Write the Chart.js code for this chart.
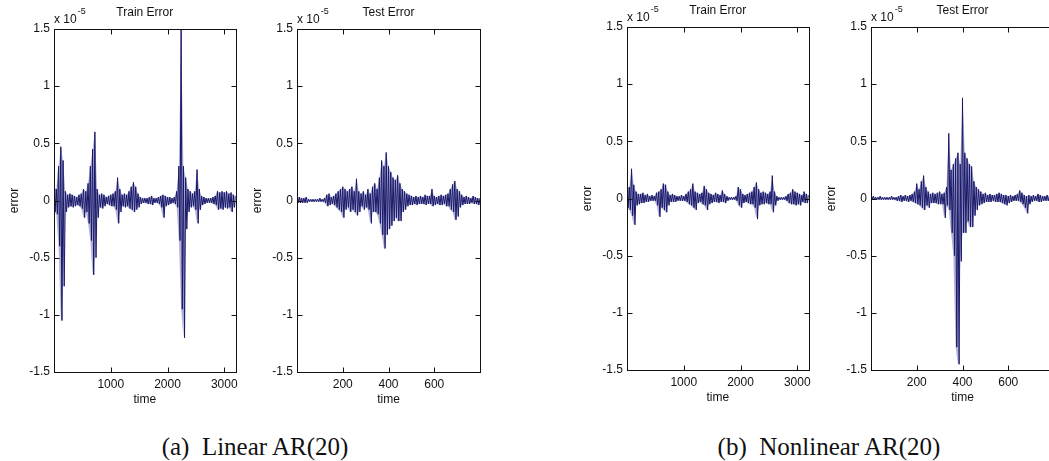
<!DOCTYPE html>
<html>
<head>
<meta charset="utf-8">
<script src="https://cdn.jsdelivr.net/npm/chart.js@4/dist/chart.umd.min.js"></script>
<style>
    html, body { margin: 0; padding: 0; background: #fff; overflow: hidden; }
    #wrap { position: relative; width: 1049px; height: 461px; overflow: hidden; }
    canvas { position: absolute; }
    .caption {
        position: absolute; top: 432px; height: 30px; line-height: 30px;
        font-family: "Liberation Serif", "DejaVu Serif", serif; font-size: 25px;
        color: #111; white-space: pre; transform: translateX(-50%);
    }
</style>
</head>
<body>
<div id="wrap">
    <canvas id="linTrain" width="243" height="410" style="left:0px;top:0px"></canvas>
    <canvas id="linTest" width="243" height="410" style="left:243px;top:0px"></canvas>
    <canvas id="nlTrain" width="243" height="410" style="left:573px;top:-2px"></canvas>
    <canvas id="nlTest" width="243" height="410" style="left:817px;top:-2px"></canvas>
    <div class="caption" style="left:255px">(a)  Linear AR(20)</div>
    <div class="caption" style="left:829px">(b)  Nonlinear AR(20)</div>
</div>
<script>
// error values in units of 1e-5, read as upper / lower envelope per time bin
const trainStep = 40;   // time units per bin, train set (0..3200)
const testStep = 10;    // time units per bin, test set (0..800)

const trainTicks = [1000, 2000, 3000];
const testTicks = [200, 400, 600];
const yTicks = [-1.5, -1, -0.5, 0, 0.5, 1, 1.5];

const linTrainHi = [0.12, 0.1, 0.3, 0.47, 0.35, 0.08, 0.05, 0.06, 0.05, 0.04, 0.03, 0.05, 0.06, 0.1, 0.08, 0.15,
    0.3, 0.45, 0.6, 0.1, 0.05, 0.06, 0.05, 0.03, 0.04, 0.05, 0.06, 0.08, 0.2, 0.1, 0.05, 0.06,
    0.05, 0.08, 0.12, 0.16, 0.12, 0.06, 0.03, 0.02, 0.02, 0.02, 0.03, 0.04, 0.02, 0.02, 0.03, 0.04,
    0.05, 0.04, 0.03, 0.03, 0.02, 0.03, 0.08, 0.3, 1.5, 0.3, 0.2, 0.1, 0.08, 0.06, 0.08, 0.27,
    0.1, 0.04, 0.03, 0.02, 0.02, 0.02, 0.03, 0.04, 0.08, 0.07, 0.08, 0.07, 0.08, 0.06, 0.07, 0.05, 0.04];
const linTrainLo = [-0.1, -0.12, -0.4, -1.05, -0.75, -0.1, -0.06, -0.05, -0.06, -0.05, -0.04, -0.05, -0.07, -0.15, -0.1, -0.2,
    -0.35, -0.65, -0.5, -0.15, -0.06, -0.07, -0.05, -0.03, -0.04, -0.05, -0.05, -0.08, -0.2, -0.1, -0.05, -0.06,
    -0.05, -0.07, -0.08, -0.1, -0.08, -0.06, -0.03, -0.02, -0.02, -0.03, -0.03, -0.04, -0.02, -0.02, -0.03, -0.06,
    -0.15, -0.05, -0.04, -0.03, -0.02, -0.03, -0.06, -0.35, -0.95, -1.2, -0.25, -0.1, -0.06, -0.05, -0.08, -0.2,
    -0.08, -0.04, -0.03, -0.02, -0.02, -0.02, -0.03, -0.04, -0.08, -0.07, -0.08, -0.06, -0.07, -0.06, -0.1, -0.06, -0.04];

const linTestHi = [0.02, 0.03, 0.02, 0.02, 0.03, 0.01, 0.01, 0.01, 0.01, 0.01, 0.02, 0.01, 0.02, 0.05, 0.06, 0.03,
    0.04, 0.06, 0.08, 0.1, 0.12, 0.1, 0.08, 0.1, 0.12, 0.08, 0.19, 0.08, 0.06, 0.08, 0.05, 0.1,
    0.06, 0.12, 0.15, 0.1, 0.2, 0.35, 0.3, 0.42, 0.3, 0.25, 0.2, 0.18, 0.22, 0.15, 0.1, 0.08,
    0.06, 0.05, 0.04, 0.03, 0.04, 0.03, 0.04, 0.03, 0.05, 0.04, 0.04, 0.1, 0.04, 0.03, 0.04, 0.05,
    0.04, 0.05, 0.06, 0.1, 0.14, 0.17, 0.1, 0.08, 0.05, 0.03, 0.04, 0.03, 0.02, 0.04, 0.03, 0.02, 0.02];
const linTestLo = [-0.02, -0.02, -0.02, -0.02, -0.02, -0.01, -0.01, -0.01, -0.01, -0.01, -0.01, -0.01, -0.02, -0.05, -0.04, -0.03,
    -0.04, -0.06, -0.08, -0.1, -0.15, -0.08, -0.06, -0.1, -0.08, -0.1, -0.13, -0.1, -0.05, -0.08, -0.06, -0.08,
    -0.2, -0.1, -0.1, -0.12, -0.2, -0.3, -0.42, -0.3, -0.25, -0.22, -0.18, -0.15, -0.18, -0.18, -0.1, -0.08,
    -0.05, -0.04, -0.04, -0.03, -0.04, -0.03, -0.03, -0.03, -0.04, -0.03, -0.03, -0.05, -0.04, -0.03, -0.04, -0.04,
    -0.03, -0.05, -0.05, -0.08, -0.1, -0.17, -0.14, -0.06, -0.04, -0.03, -0.03, -0.03, -0.02, -0.03, -0.03, -0.04, -0.02];

const nlTrainHi = [0.08, 0.1, 0.26, 0.12, 0.06, 0.04, 0.04, 0.05, 0.03, 0.04, 0.02, 0.03, 0.02, 0.05, 0.06, 0.08,
    0.13, 0.12, 0.06, 0.03, 0.04, 0.03, 0.02, 0.02, 0.03, 0.02, 0.04, 0.06, 0.08, 0.13, 0.06, 0.05,
    0.04, 0.05, 0.11, 0.08, 0.05, 0.04, 0.03, 0.05, 0.04, 0.03, 0.07, 0.04, 0.02, 0.01, 0.01, 0.01,
    0.02, 0.1, 0.08, 0.04, 0.03, 0.04, 0.05, 0.06, 0.1, 0.14, 0.08, 0.05, 0.06, 0.05, 0.04, 0.06,
    0.2, 0.06, 0.02, 0.01, 0.01, 0.01, 0.02, 0.04, 0.05, 0.08, 0.06, 0.05, 0.04, 0.03, 0.06, 0.04, 0.03];
const nlTrainLo = [-0.08, -0.1, -0.15, -0.23, -0.06, -0.05, -0.04, -0.04, -0.03, -0.03, -0.02, -0.02, -0.02, -0.06, -0.16, -0.08,
    -0.1, -0.12, -0.06, -0.03, -0.03, -0.03, -0.02, -0.02, -0.02, -0.02, -0.03, -0.05, -0.06, -0.08, -0.1, -0.04,
    -0.03, -0.05, -0.06, -0.1, -0.05, -0.04, -0.03, -0.03, -0.04, -0.03, -0.03, -0.04, -0.02, -0.01, -0.01, -0.01,
    -0.02, -0.06, -0.08, -0.04, -0.03, -0.04, -0.05, -0.05, -0.08, -0.18, -0.06, -0.05, -0.05, -0.04, -0.05, -0.05,
    -0.12, -0.06, -0.02, -0.01, -0.01, -0.01, -0.02, -0.04, -0.05, -0.05, -0.06, -0.05, -0.06, -0.03, -0.04, -0.04, -0.03];

const nlTestHi = [0.01, 0.02, 0.01, 0.01, 0.02, 0.01, 0.01, 0.01, 0.01, 0.02, 0.01, 0.01, 0.02, 0.03, 0.02, 0.03,
    0.02, 0.03, 0.04, 0.06, 0.13, 0.08, 0.15, 0.2, 0.1, 0.06, 0.04, 0.05, 0.04, 0.05, 0.06, 0.04,
    0.05, 0.1, 0.57, 0.25, 0.3, 0.35, 0.4, 0.3, 0.88, 0.4, 0.35, 0.3, 0.28, 0.15, 0.1, 0.08,
    0.06, 0.04, 0.05, 0.03, 0.04, 0.03, 0.03, 0.04, 0.05, 0.04, 0.03, 0.03, 0.02, 0.03, 0.02, 0.03,
    0.04, 0.07, 0.05, 0.03, 0.02, 0.03, 0.02, 0.03, 0.02, 0.04, 0.03, 0.02, 0.02, 0.03, 0.02, 0.02, 0.02];
const nlTestLo = [-0.01, -0.01, -0.01, -0.01, -0.01, -0.01, -0.01, -0.01, -0.01, -0.01, -0.01, -0.02, -0.02, -0.03, -0.02, -0.02,
    -0.03, -0.02, -0.03, -0.04, -0.05, -0.06, -0.08, -0.1, -0.06, -0.08, -0.04, -0.04, -0.04, -0.05, -0.05, -0.05,
    -0.17, -0.06, -0.1, -0.3, -0.5, -1.3, -1.45, -0.55, -0.3, -0.3, -0.2, -0.25, -0.25, -0.15, -0.1, -0.06,
    -0.05, -0.04, -0.03, -0.03, -0.03, -0.02, -0.03, -0.03, -0.03, -0.04, -0.05, -0.06, -0.04, -0.03, -0.02, -0.02,
    -0.02, -0.03, -0.05, -0.08, -0.13, -0.05, -0.03, -0.02, -0.02, -0.03, -0.03, -0.02, -0.02, -0.02, -0.02, -0.02, -0.02];

const axisFont = '"Liberation Sans", Arial, sans-serif';
const traceColor = 'rgb(24,24,104)';
const bandColor = 'rgba(40,40,150,0.35)';

let toPoints = function (values, step) {
    return values.map(function (v, i) { return {x: i * step, y: v}; });
};

// trace: zigzag between the upper and lower value of every bin
let buildTrace = function (hi, lo, step) {
    let pts = [];
    for (let i = 0; i < hi.length; i++) {
        pts.push({x: i * step, y: hi[i]});
        pts.push({x: i * step + step / 2, y: lo[i]});
    }
    return pts;
};

// matlab style frame: box, inward ticks, title, x 10^-5, axis labels
let framePlugin = {
    id: 'frame',
    afterDraw: function (chart, args, opts) {
        let ctx = chart.ctx;
        let a = chart.chartArea;
        let xs = chart.scales.x, ys = chart.scales.y;
        let L = Math.round(a.left) + 0.5, R = Math.round(a.right) + 0.5;
        let T = Math.round(a.top) + 0.5, B = Math.round(a.bottom) + 0.5;
        ctx.save();
        ctx.strokeStyle = '#111';
        ctx.lineWidth = 1;
        ctx.strokeRect(L, T, R - L, B - T);
        ctx.beginPath();
        opts.xticks.forEach(function (v) {
            let px = Math.round(xs.getPixelForValue(v)) + 0.5;
            ctx.moveTo(px, B); ctx.lineTo(px, B - 5);
            ctx.moveTo(px, T); ctx.lineTo(px, T + 5);
        });
        yTicks.forEach(function (v) {
            let py = Math.round(ys.getPixelForValue(v)) + 0.5;
            ctx.moveTo(L, py); ctx.lineTo(L + 5, py);
            ctx.moveTo(R, py); ctx.lineTo(R - 5, py);
        });
        ctx.stroke();

        ctx.fillStyle = '#111';
        ctx.font = '12px ' + axisFont;
        ctx.textAlign = 'center';
        ctx.textBaseline = 'middle';
        ctx.fillText(opts.title, (a.left + a.right) / 2, a.top - 16);
        ctx.fillText('time', (a.left + a.right) / 2, a.bottom + 28);

        ctx.textAlign = 'left';
        ctx.textBaseline = 'alphabetic';
        ctx.fillText('x 10', a.left, a.top - 6);
        let w = ctx.measureText('x 10').width;
        ctx.font = '9px ' + axisFont;
        ctx.fillText('-5', a.left + w + 1, a.top - 15);

        ctx.font = '12px ' + axisFont;
        ctx.translate(a.left - 39, (a.top + a.bottom) / 2);
        ctx.rotate(-Math.PI / 2);
        ctx.textAlign = 'center';
        ctx.textBaseline = 'middle';
        ctx.fillText('error', 0, 0);
        ctx.restore();
    }
};

let makePanel = function (id, hi, lo, step, xmax, xticks, title) {
    let ctx = document.getElementById(id).getContext('2d');
    return new Chart(ctx, {
        type: 'line',
        data: {
            datasets: [{
                data: buildTrace(hi, lo, step),
                borderColor: traceColor,
                borderWidth: 1,
                pointRadius: 0,
                tension: 0,
                fill: false,
                order: 0
            }, {
                data: toPoints(hi, step),
                borderWidth: 0,
                borderColor: 'transparent',
                pointRadius: 0,
                tension: 0,
                fill: false,
                order: 1
            }, {
                data: toPoints(lo, step),
                borderWidth: 0,
                borderColor: 'transparent',
                backgroundColor: bandColor,
                pointRadius: 0,
                tension: 0,
                fill: '-1',
                order: 1
            }]
        },
        options: {
            responsive: false,
            animation: false,
            devicePixelRatio: 1,
            layout: {padding: {top: 29, right: 6, left: 0, bottom: 0}},
            plugins: {
                legend: {display: false},
                tooltip: {enabled: false},
                frame: {title: title, xticks: xticks}
            },
            scales: {
                x: {
                    type: 'linear',
                    min: 0,
                    max: xmax,
                    afterBuildTicks: function (scale) {
                        scale.ticks = xticks.map(function (v) { return {value: v}; });
                    },
                    afterFit: function (scale) { scale.height = 38; },
                    grid: {display: false, drawTicks: false},
                    border: {display: false},
                    ticks: {
                        padding: 5,
                        color: '#111',
                        font: {family: axisFont, size: 12},
                        maxRotation: 0,
                        callback: function (v) { return String(v); }
                    }
                },
                y: {
                    min: -1.5,
                    max: 1.5,
                    afterBuildTicks: function (scale) {
                        scale.ticks = yTicks.map(function (v) { return {value: v}; });
                    },
                    afterFit: function (scale) { scale.width = 54; },
                    grid: {display: false, drawTicks: false},
                    border: {display: false},
                    ticks: {
                        padding: 4,
                        color: '#111',
                        font: {family: axisFont, size: 12},
                        callback: function (v) { return String(v); }
                    }
                }
            }
        },
        plugins: [framePlugin]
    });
};

makePanel('linTrain', linTrainHi, linTrainLo, trainStep, 3200, trainTicks, 'Train Error');
makePanel('linTest', linTestHi, linTestLo, testStep, 800, testTicks, 'Test Error');
makePanel('nlTrain', nlTrainHi, nlTrainLo, trainStep, 3200, trainTicks, 'Train Error');
makePanel('nlTest', nlTestHi, nlTestLo, testStep, 800, testTicks, 'Test Error');
</script>
</body>
</html>
